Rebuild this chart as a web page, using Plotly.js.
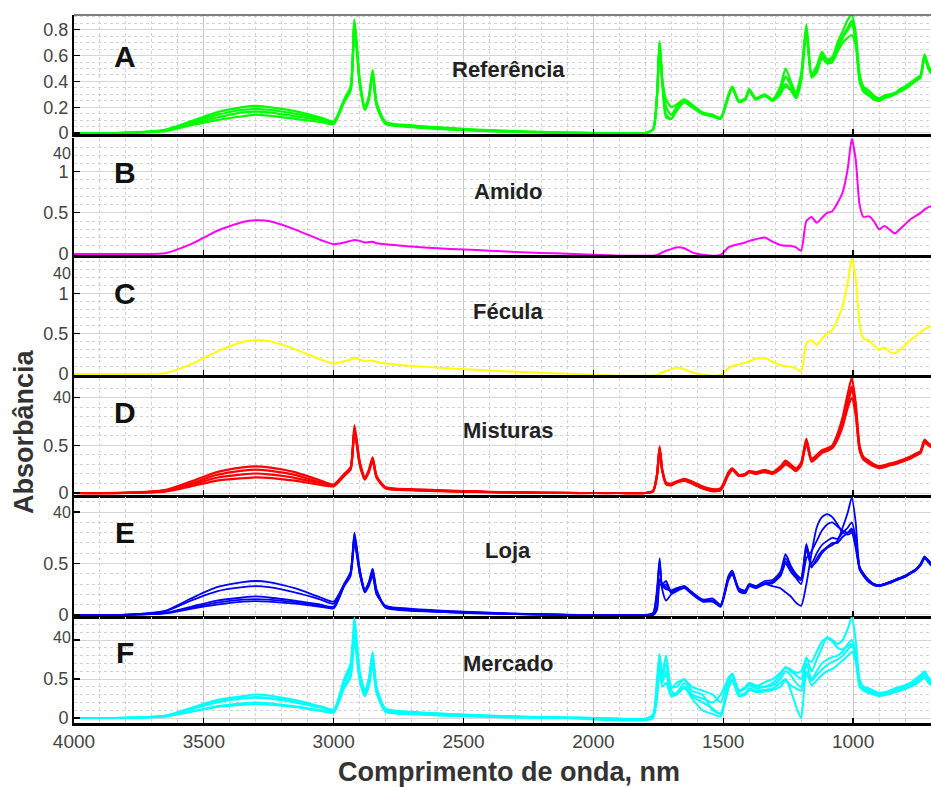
<!DOCTYPE html>
<html><head><meta charset="utf-8">
<script src="https://cdn.plot.ly/plotly-3.0.1.min.js"></script>
<style>html,body{margin:0;padding:0;background:#fff}#chart{width:931px;height:787px}</style>
</head><body><div id="chart"></div>
<script>
// Wavenumber grid (cm-1), shared by all spectra
const WN = [4000,3800,3650,3550,3450,3350,3300,3250,3150,3050,
 3000,2960,2935,2920,2900,2880,2865,2850,2835,2800,
 2700,2600,2500,2400,2300,2200,2100,2000,1900,1800,
 1770,1755,1745,1735,1720,1700,1680,1650,1620,1580,
 1540,1510,1480,1465,1440,1415,1400,1375,1340,1310,
 1280,1260,1240,1220,1200,1180,1160,1140,1120,1100,
 1080,1060,1040,1020,1005,990,975,960,940,920,
 900,880,860,840,820,800,780,760,740,725,
 710,700];

// A - Referência
const refA1 = [0,0.002,0.025,0.09,0.16,0.2,0.21,0.2,0.17,0.12,
 0.09,0.26,0.36,0.88,0.42,0.2,0.28,0.49,0.24,0.085,
 0.06,0.045,0.032,0.022,0.014,0.008,0.003,0,0,0,
 0.03,0.3,0.71,0.42,0.26,0.2,0.22,0.26,0.22,0.16,
 0.14,0.12,0.3,0.36,0.25,0.27,0.34,0.27,0.3,0.26,
 0.36,0.5,0.4,0.31,0.46,0.84,0.46,0.52,0.63,0.57,
 0.59,0.7,0.79,0.88,0.915,0.78,0.46,0.36,0.33,0.29,
 0.27,0.29,0.3,0.31,0.34,0.36,0.39,0.42,0.45,0.61,
 0.52,0.48];
const refA2 = [0,0.002,0.02,0.08,0.14,0.18,0.185,0.18,0.15,0.11,
 0.08,0.25,0.34,0.86,0.4,0.19,0.27,0.47,0.23,0.08,
 0.055,0.04,0.028,0.018,0.011,0.006,0.002,0,0,0,
 0.03,0.28,0.69,0.4,0.14,0.11,0.17,0.24,0.2,0.15,
 0.13,0.11,0.28,0.35,0.24,0.26,0.33,0.26,0.29,0.25,
 0.3,0.38,0.34,0.28,0.42,0.8,0.44,0.48,0.6,0.55,
 0.57,0.66,0.74,0.8,0.84,0.72,0.42,0.33,0.3,0.27,
 0.25,0.27,0.29,0.3,0.33,0.35,0.38,0.41,0.44,0.6,
 0.5,0.47];
const refA3 = [0,0.001,0.018,0.07,0.12,0.16,0.165,0.16,0.13,0.1,
 0.075,0.24,0.33,0.85,0.39,0.18,0.26,0.46,0.22,0.075,
 0.05,0.036,0.025,0.016,0.01,0.005,0.002,0,0,0,
 0.03,0.29,0.7,0.41,0.2,0.14,0.2,0.25,0.21,0.15,
 0.13,0.115,0.29,0.355,0.245,0.265,0.335,0.265,0.295,0.255,
 0.33,0.44,0.37,0.3,0.44,0.82,0.45,0.5,0.61,0.56,
 0.58,0.67,0.75,0.82,0.87,0.74,0.44,0.34,0.31,0.28,
 0.26,0.28,0.29,0.3,0.33,0.35,0.38,0.41,0.44,0.6,
 0.51,0.47];
const refA4 = [0,0.001,0.015,0.06,0.1,0.13,0.14,0.135,0.11,0.085,
 0.07,0.24,0.33,0.84,0.38,0.18,0.26,0.45,0.21,0.07,
 0.045,0.032,0.022,0.014,0.008,0.004,0.001,0,0,0,
 0.03,0.29,0.7,0.4,0.12,0.11,0.18,0.24,0.2,0.15,
 0.13,0.11,0.29,0.35,0.24,0.26,0.33,0.26,0.29,0.25,
 0.32,0.36,0.33,0.27,0.4,0.79,0.43,0.47,0.58,0.54,
 0.55,0.63,0.7,0.74,0.76,0.68,0.4,0.32,0.29,0.26,
 0.25,0.27,0.28,0.3,0.32,0.34,0.37,0.4,0.43,0.59,
 0.5,0.46];

// B - Amido
const amidoB = [0,0,0.01,0.12,0.28,0.39,0.41,0.4,0.3,0.17,
 0.12,0.14,0.16,0.17,0.16,0.14,0.145,0.15,0.13,0.12,
 0.09,0.07,0.055,0.04,0.025,0.012,0.004,-0.01,-0.02,-0.02,
 -0.02,-0.01,0,0.02,0.04,0.06,0.08,0.07,0.02,-0.01,
 -0.02,-0.01,0.08,0.1,0.12,0.14,0.16,0.18,0.2,0.15,
 0.11,0.1,0.1,0.08,0.04,0.4,0.45,0.38,0.44,0.5,
 0.52,0.62,0.75,1.05,1.4,1.15,0.6,0.45,0.46,0.4,
 0.3,0.34,0.3,0.25,0.3,0.36,0.42,0.46,0.5,0.54,
 0.57,0.58];

// C - Fécula
const feculaC = [0,0,0.01,0.12,0.28,0.4,0.42,0.41,0.31,0.18,
 0.13,0.16,0.18,0.2,0.18,0.16,0.165,0.17,0.15,0.13,
 0.1,0.08,0.06,0.045,0.03,0.015,0.005,-0.01,-0.02,-0.02,
 -0.02,-0.01,0,0.02,0.04,0.06,0.08,0.06,0.02,-0.01,
 -0.02,-0.01,0.07,0.1,0.12,0.14,0.16,0.19,0.2,0.15,
 0.11,0.1,0.09,0.07,0.03,0.38,0.42,0.36,0.44,0.5,
 0.55,0.68,0.85,1.15,1.44,1.2,0.62,0.44,0.42,0.36,
 0.3,0.33,0.28,0.26,0.3,0.36,0.42,0.47,0.52,0.56,
 0.58,0.6];

// D - Misturas
const mixD1 = [0,0.003,0.03,0.12,0.22,0.27,0.28,0.27,0.22,0.13,
 0.09,0.2,0.27,0.71,0.33,0.16,0.24,0.375,0.18,0.06,
 0.04,0.03,0.02,0.013,0.008,0.004,0.001,0,0,0,
 0.02,0.2,0.49,0.25,0.11,0.1,0.12,0.14,0.11,0.06,
 0.03,0.04,0.22,0.26,0.19,0.2,0.23,0.21,0.24,0.22,
 0.28,0.34,0.3,0.26,0.32,0.57,0.36,0.4,0.45,0.47,
 0.5,0.62,0.8,1.05,1.21,0.95,0.5,0.38,0.34,0.3,
 0.28,0.29,0.31,0.32,0.34,0.36,0.38,0.41,0.44,0.56,
 0.52,0.5];
const mixD2 = [0,0.002,0.025,0.1,0.19,0.235,0.245,0.235,0.19,0.11,
 0.08,0.19,0.26,0.68,0.32,0.15,0.23,0.36,0.17,0.055,
 0.035,0.025,0.017,0.011,0.006,0.003,0.001,0,0,0,
 0.02,0.19,0.47,0.24,0.1,0.09,0.11,0.13,0.1,0.05,
 0.02,0.03,0.2,0.25,0.18,0.19,0.22,0.2,0.23,0.21,
 0.26,0.31,0.28,0.24,0.3,0.54,0.34,0.38,0.43,0.45,
 0.48,0.58,0.74,0.95,1.08,0.86,0.46,0.36,0.32,0.29,
 0.27,0.28,0.3,0.31,0.33,0.35,0.37,0.4,0.43,0.55,
 0.51,0.49];
const mixD3 = [0,0.002,0.02,0.085,0.16,0.195,0.205,0.195,0.16,0.1,
 0.075,0.18,0.25,0.66,0.31,0.15,0.22,0.35,0.17,0.05,
 0.03,0.022,0.015,0.01,0.005,0.002,0,0,0,0,
 0.02,0.19,0.47,0.24,0.1,0.09,0.12,0.15,0.12,0.07,
 0.04,0.05,0.21,0.25,0.19,0.2,0.23,0.22,0.24,0.21,
 0.27,0.32,0.29,0.25,0.31,0.55,0.35,0.39,0.44,0.46,
 0.49,0.6,0.76,0.98,1.12,0.9,0.48,0.37,0.33,0.3,
 0.28,0.29,0.3,0.32,0.33,0.35,0.38,0.41,0.44,0.55,
 0.52,0.5];
const mixD4 = [0,0.001,0.015,0.07,0.13,0.155,0.165,0.16,0.13,0.085,
 0.07,0.18,0.25,0.65,0.3,0.14,0.22,0.34,0.16,0.05,
 0.03,0.02,0.014,0.009,0.005,0.002,0,0,0,0,
 0.02,0.18,0.46,0.23,0.09,0.08,0.11,0.13,0.1,0.05,
 0.02,0.03,0.19,0.24,0.18,0.19,0.22,0.2,0.22,0.2,
 0.25,0.3,0.27,0.23,0.29,0.52,0.33,0.37,0.42,0.44,
 0.47,0.56,0.7,0.9,1.0,0.82,0.45,0.35,0.31,0.28,
 0.26,0.27,0.29,0.3,0.32,0.34,0.36,0.39,0.42,0.53,
 0.5,0.48];

// E - Loja
const lojaE1 = [0,0.002,0.02,0.08,0.14,0.17,0.18,0.17,0.14,0.1,
 0.08,0.3,0.42,0.8,0.45,0.25,0.32,0.45,0.25,0.08,
 0.05,0.035,0.025,0.017,0.01,0.005,0.002,0,0,0,
 0.02,0.25,0.55,0.3,0.33,0.22,0.24,0.28,0.22,0.15,
 0.16,0.1,0.38,0.43,0.25,0.23,0.3,0.28,0.33,0.34,
 0.42,0.59,0.48,0.4,0.36,0.69,0.5,0.6,0.68,0.72,
 0.75,0.74,0.8,0.85,0.9,0.75,0.47,0.4,0.34,0.3,
 0.29,0.3,0.32,0.34,0.36,0.38,0.41,0.44,0.5,0.57,
 0.53,0.5];
const lojaE2 = [0,0.001,0.015,0.06,0.1,0.13,0.135,0.13,0.11,0.08,
 0.065,0.28,0.4,0.76,0.42,0.23,0.3,0.42,0.22,0.07,
 0.04,0.03,0.02,0.013,0.008,0.004,0.001,0,0,0,
 0.01,0.2,0.5,0.25,0.14,0.2,0.23,0.26,0.2,0.13,
 0.13,0.08,0.35,0.4,0.23,0.21,0.28,0.26,0.3,0.31,
 0.38,0.52,0.44,0.37,0.34,0.64,0.46,0.55,0.62,0.66,
 0.7,0.7,0.76,0.8,0.84,0.7,0.44,0.38,0.32,0.29,
 0.28,0.29,0.31,0.33,0.35,0.37,0.4,0.43,0.48,0.55,
 0.51,0.48];
const lojaE3 = [0,0.002,0.018,0.07,0.12,0.15,0.155,0.15,0.125,0.09,
 0.07,0.29,0.41,0.78,0.44,0.24,0.31,0.44,0.23,0.075,
 0.045,0.032,0.022,0.015,0.009,0.004,0.001,0,0,0,
 0.01,0.22,0.52,0.27,0.3,0.21,0.25,0.27,0.21,0.14,
 0.14,0.09,0.36,0.41,0.24,0.22,0.29,0.27,0.31,0.32,
 0.4,0.55,0.46,0.38,0.36,0.66,0.48,0.52,0.6,0.65,
 0.68,0.72,0.85,1.0,1.14,0.9,0.46,0.39,0.33,0.29,
 0.28,0.3,0.31,0.33,0.35,0.37,0.4,0.44,0.49,0.56,
 0.52,0.49];
const lojaE4 = [0,0.003,0.04,0.16,0.27,0.32,0.33,0.32,0.26,0.17,
 0.13,0.3,0.4,0.7,0.4,0.22,0.28,0.38,0.2,0.09,
 0.06,0.045,0.032,0.022,0.014,0.008,0.003,0,0,0,
 0,0.05,0.3,0.28,0.25,0.24,0.26,0.28,0.22,0.15,
 0.14,0.1,0.36,0.4,0.26,0.24,0.3,0.28,0.3,0.28,
 0.26,0.22,0.18,0.12,0.09,0.3,0.6,0.85,0.95,0.98,
 0.95,0.88,0.8,0.78,0.8,0.65,0.45,0.4,0.34,0.3,
 0.29,0.3,0.32,0.34,0.36,0.38,0.41,0.44,0.49,0.55,
 0.52,0.49];
const lojaE5 = [0,0.003,0.035,0.14,0.23,0.27,0.28,0.27,0.22,0.15,
 0.11,0.28,0.38,0.72,0.41,0.22,0.29,0.4,0.21,0.085,
 0.055,0.04,0.03,0.02,0.012,0.006,0.002,0,0,0,
 0,0.08,0.35,0.3,0.27,0.23,0.25,0.27,0.21,0.14,
 0.13,0.09,0.34,0.39,0.25,0.23,0.29,0.27,0.31,0.32,
 0.38,0.5,0.42,0.36,0.3,0.55,0.62,0.72,0.82,0.88,
 0.9,0.86,0.82,0.8,0.82,0.68,0.46,0.4,0.33,0.3,
 0.29,0.3,0.32,0.34,0.36,0.38,0.41,0.44,0.49,0.56,
 0.53,0.5];

// F - Mercado
const mercF1 = [0,0.002,0.03,0.13,0.23,0.28,0.3,0.29,0.23,0.15,
 0.11,0.5,0.7,1.29,0.6,0.35,0.5,0.85,0.4,0.12,
 0.08,0.06,0.045,0.03,0.02,0.012,0.005,0,-0.01,-0.01,
 0.05,0.5,0.82,0.55,0.8,0.4,0.4,0.5,0.35,0.3,
 0.1,0.06,0.45,0.57,0.35,0.4,0.45,0.42,0.4,0.45,
 0.55,0.65,0.6,0.55,0.5,0.78,0.6,0.75,0.9,1.04,
 1.0,0.95,1.0,1.15,1.29,1.0,0.5,0.4,0.38,0.35,
 0.32,0.33,0.35,0.38,0.4,0.42,0.45,0.5,0.55,0.6,
 0.52,0.48];
const mercF2 = [0,0.002,0.025,0.11,0.2,0.25,0.26,0.25,0.2,0.13,
 0.1,0.45,0.62,1.15,0.55,0.32,0.46,0.78,0.37,0.1,
 0.07,0.05,0.04,0.027,0.017,0.01,0.004,0,-0.01,-0.01,
 0.03,0.35,0.75,0.5,0.55,0.3,0.32,0.45,0.3,0.25,
 0.2,0.3,0.5,0.55,0.33,0.38,0.42,0.38,0.4,0.42,
 0.5,0.6,0.55,0.45,0.4,0.7,0.5,0.6,0.7,0.75,
 0.78,0.8,0.85,0.95,1.0,0.85,0.45,0.38,0.36,0.33,
 0.3,0.31,0.33,0.35,0.38,0.4,0.43,0.47,0.52,0.57,
 0.5,0.46];
const mercF3 = [0,0.001,0.02,0.08,0.15,0.19,0.2,0.19,0.15,0.1,
 0.08,0.4,0.55,1.05,0.5,0.3,0.42,0.7,0.33,0.08,
 0.05,0.035,0.025,0.015,0.008,0.003,0,-0.01,-0.02,-0.02,
 0.02,0.3,0.7,0.45,0.6,0.35,0.3,0.4,0.25,0.1,
 0.05,0.02,0.4,0.5,0.3,0.32,0.38,0.35,0.36,0.38,
 0.45,0.5,0.35,0.15,0.0,0.55,0.48,0.55,0.62,0.68,
 0.72,0.75,0.8,0.88,0.92,0.8,0.42,0.36,0.34,0.31,
 0.29,0.3,0.32,0.34,0.36,0.38,0.41,0.45,0.5,0.55,
 0.47,0.44];
const mercF4 = [0,0.002,0.028,0.12,0.21,0.26,0.27,0.26,0.21,0.14,
 0.1,0.48,0.66,1.2,0.58,0.34,0.48,0.82,0.38,0.11,
 0.075,0.055,0.04,0.028,0.018,0.01,0.004,0,-0.01,-0.01,
 0.04,0.45,0.8,0.52,0.7,0.38,0.45,0.49,0.4,0.35,
 0.3,0.2,0.52,0.56,0.36,0.38,0.44,0.4,0.46,0.5,
 0.58,0.65,0.62,0.58,0.6,0.75,0.72,0.85,0.98,1.02,
 0.98,0.9,0.88,0.92,0.95,0.82,0.48,0.4,0.37,0.34,
 0.31,0.32,0.34,0.37,0.39,0.41,0.44,0.48,0.53,0.58,
 0.5,0.47];
const mercF5 = [0,0.001,0.02,0.08,0.14,0.17,0.18,0.17,0.14,0.09,
 0.07,0.38,0.52,1.0,0.48,0.28,0.4,0.68,0.32,0.08,
 0.05,0.035,0.025,0.015,0.008,0.003,0,-0.02,-0.03,-0.03,
 0,0.25,0.65,0.4,0.45,0.28,0.3,0.38,0.28,0.2,
 0.12,0.05,0.38,0.48,0.28,0.3,0.36,0.33,0.34,0.36,
 0.4,0.48,0.42,0.38,0.35,0.6,0.42,0.48,0.55,0.6,
 0.63,0.68,0.74,0.8,0.85,0.72,0.4,0.35,0.32,0.3,
 0.28,0.29,0.31,0.33,0.35,0.37,0.4,0.43,0.48,0.52,
 0.45,0.42];

const panelLetters = ['A','B','C','D','E','F'];
const panelTitles = ['Referência','Amido','Fécula','Misturas','Loja','Mercado'];
const xTickVals = [4000,3500,3000,2500,2000,1500,1000];
const yTickValsA = [0,0.2,0.4,0.6,0.8];
const yTickValsB = [0,0.5,1];

// ---- presentation (positions / styles) ----
const panels = [
 {series:[refA1,refA2,refA3,refA4], color:'#00ff00', lw:2.2, dom:[0.8319,1.0], range:[-0.008,0.915], tv:yTickValsA, tt:['0','0.2','0.4','0.6','0.8'], minor:0.05, ly:57, ty:70},
 {series:[amidoB], color:'#ff00ff', lw:2, dom:[0.6610,0.8263], range:[-0.012,1.41], tv:yTickValsB, tt:['0','0.5','1'], minor:0.1, ly:172, ty:191, fy:153},
 {series:[feculaC], color:'#ffff00', lw:2, dom:[0.4915,0.6568], range:[-0.012,1.444], tv:yTickValsB, tt:['0','0.5','1'], minor:0.1, ly:293, ty:311, fy:273},
 {series:[mixD1,mixD2,mixD3,mixD4], color:'#ff0000', lw:2.2, dom:[0.3220,0.4873], range:[-0.021,1.208], tv:yTickValsB, tt:['0','0.5',''], minor:0.1, ly:412, ty:430, fy:397},
 {series:[lojaE1,lojaE2,lojaE3,lojaE4,lojaE5], color:'#0000ff', lw:1.8, dom:[0.1511,0.3192], range:[-0.01,1.146], tv:yTickValsB, tt:['0','0.5',''], minor:0.1, ly:532, ty:550, fy:512},
 {series:[mercF1,mercF2,mercF3,mercF4,mercF5], color:'#00ffff', lw:2, dom:[0,0.1497], range:[-0.064,1.295], tv:yTickValsB, tt:['0','0.5',''], minor:0.1, ly:652, ty:663, fy:637}
];

const FONT = 'Liberation Sans, Arial, Helvetica, sans-serif';
const PL = 74, PR = 931, PT = 15, PB = 723;
const px2x = px => (px - PL) / (PR - PL);
const py2y = py => (PB - py) / (PB - PT);

const traces = [];
const layout = {
 width:931, height:787,
 margin:{l:PL, r:931-PR, t:PT, b:787-PB},
 paper_bgcolor:'#fff', plot_bgcolor:'#fff',
 showlegend:false,
 annotations:[], shapes:[]
};

panels.forEach((p,i)=>{
 const n = i===0 ? '' : String(i+1);
 p.series.forEach(ys=>{
  traces.push({type:'scatter', mode:'lines', x:WN, y:ys, xaxis:'x'+n, yaxis:'y'+n,
   line:{color:p.color, width:p.lw, shape:'spline', smoothing:0.6}, hoverinfo:'skip', showlegend:false});
 });
 layout['xaxis'+n] = {
  domain:[0,1], anchor:'y'+n, range:[4000,700], autorange:false,
  tickmode:'array', tickvals:xTickVals, ticktext:xTickVals.map(String),
  showticklabels: i===5, ticks:'inside', ticklen:5, tickwidth:1.2, tickcolor:'#000',
  showline:true, linecolor:'#000', linewidth:2.6, layer:'above traces',
  showgrid:true, gridcolor:'#c8c8c8', gridwidth:1, zeroline:false,
  minor:{dtick:100, tick0:0, showgrid:true, gridcolor:'#d2d2d2', griddash:'3px,3px', gridwidth:1},
  tickfont:{family:FONT, size:19, color:'#444'}
 };
 layout['yaxis'+n] = {
  domain:p.dom, anchor:'x'+n, range:p.range, autorange:false,
  tickmode:'array', tickvals:p.tv, ticktext:p.tt,
  ticks:'inside', ticklen:6, tickwidth:1.2, tickcolor:'#000',
  showline:true, linecolor:'#000', linewidth:2, layer:'above traces',
  showgrid:true, gridcolor:'#d6d6d6', gridwidth:1, zeroline:false,
  minor:{dtick:p.minor, tick0:0, showgrid:true, gridcolor:'#d2d2d2', griddash:'3px,3px', gridwidth:1},
  tickfont:{family:FONT, size:18, color:'#444'}
 };
 layout.annotations.push({xref:'paper', yref:'paper', x:px2x(125), y:py2y(p.ly), text:'<b>'+panelLetters[i]+'</b>',
  showarrow:false, xanchor:'center', yanchor:'middle', font:{family:FONT, size:30, color:'#111'}});
 layout.annotations.push({xref:'paper', yref:'paper', x:px2x(508), y:py2y(p.ty), text:'<b>'+panelTitles[i]+'</b>',
  showarrow:false, xanchor:'center', yanchor:'middle', font:{family:FONT, size:22, color:'#222'}});
 if (p.fy) {
  layout.annotations.push({xref:'paper', yref:'paper', x:px2x(72), y:py2y(p.fy), text:'40',
   showarrow:false, xanchor:'right', yanchor:'middle', borderpad:0, font:{family:FONT, size:16, color:'#444'}});
 }
});

// top frame of the first panel
layout.shapes.push({type:'line', xref:'paper', yref:'paper', x0:0, x1:1, y0:1, y1:1, line:{color:'#555', width:1.5}});

// axis titles
layout.annotations.push({xref:'paper', yref:'paper', x:px2x(509), y:py2y(772), text:'<b>Comprimento de onda, nm</b>',
 showarrow:false, xanchor:'center', yanchor:'middle', font:{family:FONT, size:27, color:'#333'}});
layout.annotations.push({xref:'paper', yref:'paper', x:px2x(24), y:py2y(432), text:'<b>Absorbância</b>', textangle:-90,
 showarrow:false, xanchor:'center', yanchor:'middle', font:{family:FONT, size:27, color:'#333'}});

Plotly.newPlot('chart', traces, layout, {displayModeBar:false, staticPlot:true});
</script></body></html>
